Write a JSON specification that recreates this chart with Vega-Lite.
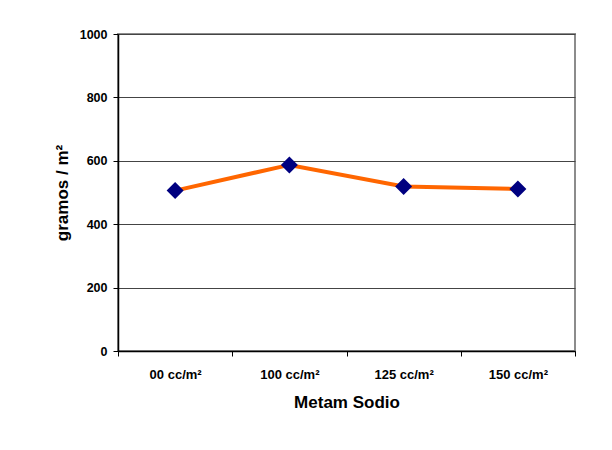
{
  "$schema": "https://vega.github.io/schema/vega-lite/v6.json",
  "width": 457,
  "height": 317,
  "autosize": {"type": "none"},
  "padding": {"left": 118, "top": 34, "right": 37, "bottom": 99},
  "background": "white",
  "data": {
    "values": [
      {"dosis": "00 cc/m²", "gramos": 506},
      {"dosis": "100 cc/m²", "gramos": 587},
      {"dosis": "125 cc/m²", "gramos": 519},
      {"dosis": "150 cc/m²", "gramos": 511}
    ]
  },
  "encoding": {
    "x": {
      "field": "dosis",
      "type": "nominal",
      "sort": null,
      "scale": {"paddingInner": 0, "paddingOuter": 0},
      "axis": {
        "title": "Metam Sodio",
        "labelAngle": 0,
        "labelFontSize": 13,
        "tickBand": "extent",
        "tickSize": 5,
        "labelPadding": 12,
        "titlePadding": 13,
        "domainColor": "black",
        "domainWidth": 1.5,
        "tickColor": "black"
      }
    },
    "y": {
      "field": "gramos",
      "type": "quantitative",
      "scale": {"domain": [0, 1000]},
      "axis": {
        "title": "gramos / m²",
        "values": [0, 200, 400, 600, 800, 1000],
        "format": "d",
        "labelFontSize": 12.5,
        "tickSize": 5,
        "labelPadding": 6,
        "titlePadding": 8,
        "grid": true,
        "gridColor": "#444444",
        "gridWidth": 1,
        "domainColor": "black",
        "domainWidth": 1.5,
        "tickColor": "black"
      }
    }
  },
  "layer": [
    {"mark": {"type": "line", "color": "#FF6600", "strokeWidth": 4}},
    {"mark": {"type": "point", "shape": "diamond", "filled": true, "color": "#000080", "opacity": 1, "size": 290}}
  ],
  "config": {
    "font": "Liberation Sans",
    "view": {"stroke": "#8c8c8c", "strokeWidth": 2},
    "axis": {
      "labelFont": "Liberation Sans",
      "labelFontWeight": "bold",
      "labelColor": "black",
      "titleFont": "Liberation Sans",
      "titleFontSize": 17,
      "titleFontWeight": "bold",
      "titleColor": "black"
    }
  }
}
